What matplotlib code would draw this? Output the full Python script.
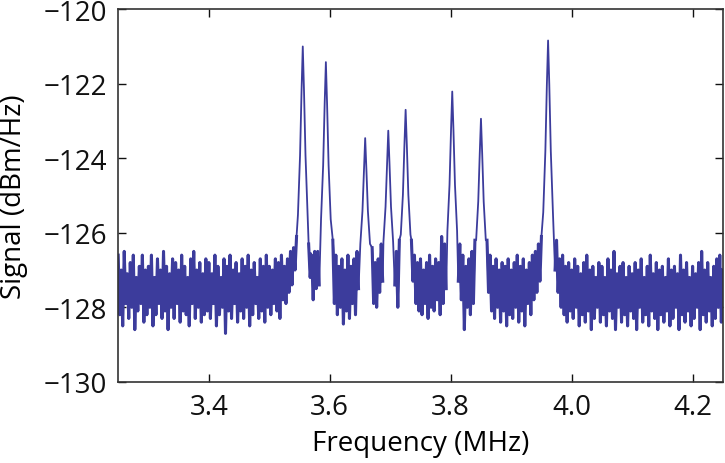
import numpy as np
import matplotlib
matplotlib.use("Agg")
import matplotlib.pyplot as plt

plt.rcParams['font.family'] = ['Open Sans', 'DejaVu Sans']

# ---- data ----
# noise band: upper swing every 0.005 MHz from 3.250, lower swing in between
noise_hi = [
    -126.6, -127.0, -126.5, -127.1, -126.8, -126.6, -127.2, -126.9, -126.6, -127.0,
    -126.9, -126.6, -127.2, -126.7, -127.0, -126.5, -126.9, -127.1, -126.7, -126.8,
    -127.0, -126.6, -126.9, -127.2, -126.7, -126.5, -127.0, -126.8, -127.1, -126.7,
    -126.8, -127.1, -126.6, -126.9, -127.2, -126.7, -126.9, -126.6, -127.0, -126.8,
    -127.1, -126.7, -126.9, -126.6, -127.0, -126.8, -127.2, -126.7, -126.9, -126.6,
    -126.9, -127.0, -126.7, -126.8, -126.6, -126.9, -126.7, -126.5, -126.4, -126.1,
    -124.0, -122.0, -124.0, -126.3, -126.6, -126.5, -126.5, -126.1, -124.0, -123.0,
    -125.0, -126.2, -126.6, -126.9, -126.7, -127.0, -126.6, -126.9, -126.7, -126.5,
    -126.1, -124.0, -124.0, -125.0, -126.4, -126.8, -126.7, -126.3, -125.0, -124.0,
    -124.0, -126.0, -126.5, -126.2, -124.0, -123.0, -124.0, -126.2, -126.6, -126.8,
    -126.7, -127.0, -126.8, -126.6, -126.9, -126.7, -126.8, -126.1, -126.3, -125.0,
    -123.0, -123.0, -125.0, -126.3, -126.6, -126.9, -126.7, -126.5, -126.2, -125.0,
    -123.0, -124.0, -126.2, -126.6, -126.9, -126.7, -127.0, -126.8, -126.9, -126.7,
    -127.0, -126.8, -126.6, -126.9, -126.7, -127.0, -126.8, -126.6, -126.5, -126.3,
    -126.1, -124.0, -121.5, -124.0, -125.7, -126.2, -126.7, -126.6, -126.9, -126.8,
    -127.0, -126.7, -126.9, -127.1, -126.8, -126.6, -127.0, -126.9, -127.2, -126.8,
    -126.9, -127.2, -126.7, -127.0, -126.5, -127.1, -126.9, -126.8, -127.2, -126.9,
    -127.1, -126.8, -127.0, -126.7, -127.2, -126.9, -126.6, -127.1, -126.8, -127.0,
    -126.9, -127.2, -126.7, -127.0, -126.9, -127.1, -126.6, -127.0, -126.8, -127.2,
    -126.9, -127.1, -126.8, -126.5, -127.0, -126.8, -127.2, -126.9, -126.7, -126.6,
    -127.0,
]
noise_lo = [
    -128.2, -128.5, -127.9, -128.3, -128.0, -128.6, -128.1, -127.9, -128.4, -128.2,
    -128.0, -128.5, -128.2, -127.9, -128.3, -128.1, -128.6, -128.0, -128.3, -127.9,
    -128.4, -128.1, -128.2, -128.5, -127.9, -128.3, -128.0, -128.4, -128.2, -128.1,
    -128.3, -127.9, -128.5, -128.2, -128.0, -128.7, -128.1, -128.3, -127.9, -128.4,
    -128.1, -128.3, -128.0, -128.5, -128.2, -127.9, -128.3, -128.1, -128.4, -128.0,
    -128.2, -127.9, -128.1, -128.3, -127.8, -127.9, -127.6, -127.4, -127.0, -126.2,
    -124.0, -124.0, -126.0, -127.2, -127.8, -127.5, -127.4, -126.0, -124.0, -124.0,
    -127.3, -127.9, -128.2, -128.0, -128.45, -128.1, -128.3, -127.9, -128.2, -127.5,
    -125.0, -124.0, -125.0, -127.2, -127.9, -128.0, -127.6, -127.3, -124.0, -124.0,
    -125.0, -127.4, -128.0, -126.0, -125.0, -124.0, -126.0, -127.3, -127.9, -128.1,
    -128.2, -127.9, -128.3, -128.0, -128.1, -127.8, -128.2, -127.9, -127.5, -125.0,
    -123.0, -125.0, -127.3, -127.8, -128.6, -128.0, -128.2, -127.9, -125.0, -124.0,
    -124.0, -126.0, -127.6, -128.1, -128.3, -128.0, -128.4, -128.1, -128.5, -128.2,
    -128.3, -128.0, -128.4, -128.1, -128.5, -127.9, -128.2, -127.8, -127.6, -127.3,
    -126.8, -124.0, -122.0, -125.0, -127.0, -127.6, -128.0, -128.2, -128.4, -128.1,
    -128.3, -128.0, -128.5, -128.2, -128.4, -128.1, -128.6, -128.3, -128.0, -128.4,
    -128.2, -128.5, -128.1, -128.3, -128.6, -128.0, -128.4, -128.2, -128.5, -128.1,
    -128.3, -128.6, -128.0, -128.4, -128.2, -128.5, -128.1, -128.3, -128.6, -128.2,
    -128.4, -128.1, -128.5, -128.3, -128.0, -128.6, -128.2, -128.4, -128.1, -128.5,
    -128.3, -128.0, -128.6, -128.2, -128.4, -128.1, -128.5, -128.3, -128.0, -128.4,
]

# resonance peaks (MHz, dBm/Hz)
peak_center = [3.5553, 3.5935, 3.6585, 3.6967, 3.7254, 3.8025, 3.850, 3.961]
peak_top = [-121.0, -121.42, -123.46, -123.26, -122.70, -122.21, -122.94, -120.84]
peak_offsets = [-0.013, -0.008, -0.0045, -0.002, 0.002, 0.0045, 0.008, 0.013]
peak_sides = [
    [-126.54, -125.52, -123.92, -122.17, -122.17, -123.92, -125.52, -126.54],
    [-126.54, -125.64, -124.19, -122.54, -122.54, -124.19, -125.64, -126.54],
    [-126.78, -126.30, -125.42, -124.29, -124.29, -125.42, -126.30, -126.78],
    [-126.75, -126.24, -125.30, -124.13, -124.13, -125.30, -126.24, -126.75],
    [-126.67, -126.05, -124.98, -123.65, -123.65, -124.98, -126.05, -126.67],
    [-126.68, -125.95, -124.71, -123.24, -123.24, -124.71, -125.95, -126.68],
    [-126.79, -126.20, -125.16, -123.87, -123.87, -125.16, -126.20, -126.79],
    [-126.50, -125.45, -123.81, -122.02, -122.02, -123.81, -125.45, -126.50],
]

f_start = 3.25
f_step = 0.005
color = '#3c3c9c'

# -------- build the trace --------
hi_f = f_start + f_step * np.arange(len(noise_hi))
lo_f = f_start + f_step / 2 + f_step * np.arange(len(noise_lo))
freq = np.concatenate([hi_f, lo_f])
sig = np.concatenate([noise_hi, noise_lo])

# drop the noise samples that sit on a peak, then add the peak shapes
near = np.zeros(len(freq), dtype=bool)
for c in peak_center:
    near |= np.abs(freq - c) < 0.009
freq, sig = freq[~near], sig[~near]

# noise floor alone, broken at each peak (drawn thicker underneath)
nf = np.concatenate([freq, peak_center])
ns = np.concatenate([sig, np.full(len(peak_center), np.nan)])
order = np.argsort(nf)
nf, ns = nf[order], ns[order]

pf, ps = [], []
for c, top, sides in zip(peak_center, peak_top, peak_sides):
    pf += [c + o for o in peak_offsets] + [c]
    ps += list(sides) + [top]
freq = np.concatenate([freq, pf])
sig = np.concatenate([sig, ps])
order = np.argsort(freq)
freq, sig = freq[order], sig[order]

# -------- plot --------
fig = plt.figure(figsize=(7.25, 4.64), dpi=100)
ax = fig.add_axes([0.163, 0.175, 0.834, 0.803])
ax.plot(nf, ns, color=color, linewidth=2.2)
ax.plot(freq, sig, color=color, linewidth=1.3)

ax.set_xlim(3.25, 4.25)
ax.set_ylim(-130, -120)
ax.set_xticks([3.4, 3.6, 3.8, 4.0, 4.2])
ax.set_xticklabels(["3.4", "3.6", "3.8", "4.0", "4.2"])
ax.set_yticks([-130, -128, -126, -124, -122, -120])
ax.tick_params(direction='in', top=True, right=True, length=6, width=1,
               labelsize=20, colors='#111111', pad=8)
for s in ax.spines.values():
    s.set_color('#333333')
    s.set_linewidth(1.2)

ax.set_xlabel("Frequency (MHz)", fontsize=20, labelpad=6)
ax.set_ylabel("Signal (dBm/Hz)", fontsize=20, labelpad=11)

fig.savefig("out.png", dpi=100)
